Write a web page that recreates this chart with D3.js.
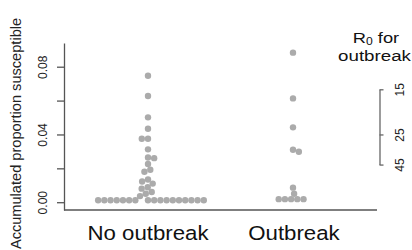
<!DOCTYPE html>
<html>
<head>
<meta charset="utf-8">
<script src="https://cdn.jsdelivr.net/npm/d3@7"></script>
<style>
  body { margin: 0; background: #fff; }
  svg { display: block; font-family: "Liberation Sans", Arial, sans-serif; }
</style>
</head>
<body>
<script>
// values
var groups = ["No outbreak", "Outbreak"];
var no_outbreak = [0.0747, 0.0627, 0.0501, 0.0434, 0.0375, 0.0375, 0.0312, 0.0264, 0.0260, 0.0226,
    0.0192, 0.0180, 0.0134, 0.0122, 0.0110, 0.0088, 0.0080, 0.0060, 0.0050, 0.0036,
    0.0012, 0.0012, 0.0012, 0.0012, 0.0012, 0.0012, 0.0012, 0.0012, 0.0012,
    0.0012, 0.0012, 0.0012, 0.0012, 0.0012, 0.0012, 0.0012, 0.0012];
var outbreak = [0.0883, 0.0613, 0.0442, 0.0310, 0.0298, 0.0086, 0.0050,
    0.0018, 0.0018, 0.0018, 0.0018, 0.0018];
var y_ticks = [0, 0.02, 0.04, 0.06, 0.08];
var y_labels = [0, 0.04, 0.08];
var r0_ticks = [15, 25, 45];

var width = 412, height = 250;
var svg = d3.select("body").append("svg").attr("width", width).attr("height", height);

var y = d3.scaleLinear().domain([-0.0046, 0.094]).range([210, 43]);
var x = d3.scalePoint().domain(groups).range([148, 293]);
var left = 64, right = 377;
var r = 3.2, gap = 6.2;

// simple swarm: biggest values first, each dot goes as close to the middle as it can
function swarm(values) {
    var order = values.map(function(v, i) { return i; })
        .sort(function(a, b) { return values[b] - values[a]; });
    var placed = [];
    order.forEach(function(i, k) {
        var cy = y(values[i]);
        var near = placed.filter(function(p) { return Math.abs(p.y - cy) < gap; });
        var cands = [0];
        near.forEach(function(p) {
            var dx = Math.sqrt(gap * gap - (p.y - cy) * (p.y - cy));
            cands.push(p.x - dx, p.x + dx);
        });
        cands = cands.filter(function(c) {
            return near.every(function(p) {
                return (p.x - c) * (p.x - c) + (p.y - cy) * (p.y - cy) >= gap * gap - 0.01;
            });
        });
        cands.sort(function(a, b) {
            var d = Math.abs(a) - Math.abs(b);
            if (Math.abs(d) > 1e-6) return d;
            return k % 2 ? a - b : b - a;
        });
        placed.push({ x: cands[0], y: cy, v: values[i] });
    });
    return placed;
}

var dots = [];
swarm(no_outbreak).forEach(function(p) { p.g = groups[0]; dots.push(p); });
swarm(outbreak).forEach(function(p) { p.g = groups[1]; dots.push(p); });

svg.append("g").selectAll("circle").data(dots).enter().append("circle")
    .attr("cx", function(d) { return x(d.g) + d.x; })
    .attr("cy", function(d) { return d.y; })
    .attr("r", r)
    .style("fill", "#ababab");

// y axis
var y_axis = svg.append("g")
    .attr("transform", "translate(" + left + ",0)")
    .call(d3.axisLeft(y).tickValues(y_ticks).tickSize(7).tickSizeOuter(0)
        .tickFormat(function(d) { return y_labels.indexOf(d) >= 0 ? d3.format(".2f")(d) : ""; }));
y_axis.selectAll("path, line").attr("stroke", "#555").attr("stroke-width", 1.3);
y_axis.selectAll("text")
    .attr("x", 0).attr("dy", 0)
    .attr("text-anchor", "middle")
    .attr("transform", "translate(-17.5,0) rotate(-90)")
    .style("font-size", "12px").style("fill", "#222");

// bottom line
svg.append("line")
    .attr("x1", left).attr("x2", right)
    .attr("y1", y.range()[0]).attr("y2", y.range()[0])
    .attr("stroke", "#555").attr("stroke-width", 1.3);

svg.append("text")
    .attr("transform", "translate(21," + 133.5 + ") rotate(-90)")
    .attr("text-anchor", "middle")
    .style("font-size", "14.6px").style("fill", "#222")
    .text("Accumulated proportion susceptible");

svg.selectAll(".group-label").data(groups).enter().append("text")
    .attr("class", "group-label")
    .attr("transform", function(d) { return "translate(" + (x(d) + (d == "Outbreak" ? 1 : 0)) + ",240) scale(1.14,1)"; })
    .attr("text-anchor", "middle")
    .style("font-size", "19.5px").style("fill", "#111")
    .text(function(d) { return d; });

// R0 legend, placed on the same susceptible scale (1/R0)
var ly = d3.scaleLinear()
    .domain([1 / r0_ticks[0], 1 / r0_ticks[r0_ticks.length - 1]])
    .range([y(1 / r0_ticks[0]), y(1 / r0_ticks[r0_ticks.length - 1])]);
var legend = svg.append("g")
    .attr("transform", "translate(379.5,0)")
    .call(d3.axisRight(ly).tickValues(r0_ticks.map(function(d) { return 1 / d; }))
        .tickSize(4).tickSizeOuter(0)
        .tickFormat(function(d) { return Math.round(1 / d); }));
legend.selectAll("path, line").attr("stroke", "#666").attr("stroke-width", 1.3);
legend.selectAll("text")
    .attr("x", 0).attr("dy", 0)
    .attr("text-anchor", "middle")
    .attr("transform", "translate(24.5,0) rotate(-90)")
    .style("font-size", "12px").style("fill", "#222");

var title = svg.append("g").attr("transform", "translate(376,43) scale(1.22,1)");
var t1 = title.append("text").attr("text-anchor", "middle")
    .style("font-size", "15px").style("fill", "#111");
t1.append("tspan").text("R");
t1.append("tspan").attr("dy", 2).style("font-size", "10px").text("0");
t1.append("tspan").attr("dy", -2).text(" for");
svg.append("g").attr("transform", "translate(374.5,61) scale(1.25,1)")
    .append("text").attr("text-anchor", "middle")
    .style("font-size", "15px").style("fill", "#111")
    .text("outbreak");
</script>
</body>
</html>
